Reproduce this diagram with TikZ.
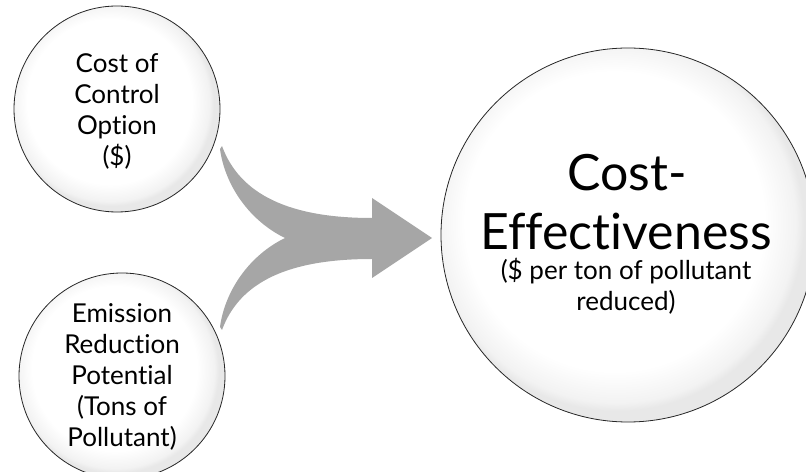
\documentclass[tikz,border=0pt]{standalone}
\usepackage{fontspec}
\setmainfont[Ligatures={NoCommon}]{Lato}
\pgfdeclareradialshading{bubbleshade}{\pgfpoint{-3bp}{3bp}}{color(0bp)=(white); color(20bp)=(white); color(24bp)=(black!5); color(25bp)=(black!9); color(50bp)=(black!9)}
\definecolor{arrowgray}{HTML}{A6A6A6}
\tikzset{
  bubble/.style={circle, draw=black!85, line width=0.8bp, shading=bubbleshade, inner sep=0pt},
  smalltxt/.style={font=\fontsize{26bp}{31bp}\selectfont, align=center, text=black},
  bigtxt/.style={font=\fontsize{50bp}{60bp}\selectfont, anchor=base, text=black, inner sep=0pt, text depth=0pt},
  subtxt/.style={font=\fontsize{26bp}{31bp}\selectfont, anchor=base, text=black, inner sep=0pt, text height=17bp},
}
\begin{document}
\begin{tikzpicture}[x=1bp,y=-1bp]
\useasboundingbox (0,0) rectangle (806,472);
\clip (0,0) rectangle (806,472);
% arrow
\fill[arrowgray] (222,146) .. controls (240,195) and (290,218) .. (372,218)
  -- (372,198) -- (432,238) -- (372,278) -- (372,259)
  .. controls (290,259) and (240,281) .. (222,330)
  -- (220,327) .. controls (225,290) and (250,255) .. (285,238)
  .. controls (250,221) and (225,186) .. (220,149) -- cycle;
% circles
\node[bubble, minimum size=206bp] (cost) at (117,109) {};
\node[smalltxt] (costtxt) at (117,111) {Cost of\\Control\\Option\\(\$)};
\node[bubble, minimum size=206bp] (emis) at (122,376) {};
\node[smalltxt] (emistxt) at (122,377) {Emission\\Reduction\\Potential\\(Tons of\\Pollutant)};
\node[bubble, minimum size=374bp] (ce) at (628,235) {};
\node[bigtxt] (t1) at (627,191) {Cost-};
\node[bigtxt] (t2) at (626,250) {Effectiveness};
\node[subtxt] (t3) at (626,280) {(\$ per ton of pollutant};
\node[subtxt] (t4) at (626,311) {reduced)};
\end{tikzpicture}
\end{document}
